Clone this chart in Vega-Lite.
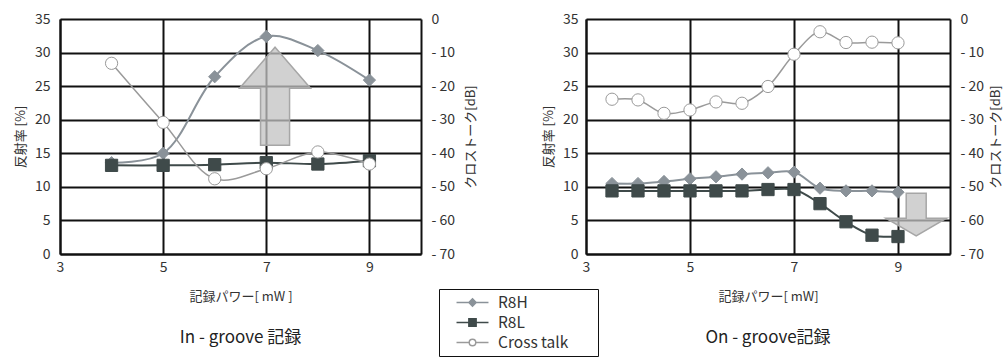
{
  "$schema": "https://vega.github.io/schema/vega-lite/v6.json",
  "padding": {"left": 14, "top": 12, "right": 0, "bottom": 0},
  "background": "white",
  "spacing": 64,
  "config": {
    "font": "Noto Sans CJK JP",
    "view": {"stroke": null},
    "axis": {"labelFont": "Noto Sans CJK JP", "titleFont": "Noto Sans CJK JP", "labelColor": "#333", "titleColor": "#333", "labelFontSize": 14, "titleFontSize": 13, "titleFontWeight": "normal", "ticks": false, "domainColor": "#111", "domainWidth": 2, "gridColor": "#111", "gridWidth": 2, "gridOpacity": 1},
    "title": {"font": "Noto Sans CJK JP", "fontSize": 17, "fontWeight": "normal", "color": "#222"},
    "legend": {"title": null, "orient": "none", "legendX": 379, "legendY": 270, "strokeColor": "#111", "fillColor": "#fff", "padding": 5, "labelFontSize": 15.5, "labelFont": "Noto Sans CJK JP", "labelColor": "#333", "symbolSize": 211, "symbolStrokeWidth": 1.5, "rowPadding": 3, "labelOffset": 17, "symbolOffset": 20}
  },
  "datasets": {
    "pts": [
      {"p": "in", "s": "R8H", "x": 4, "v": 13.6},
      {"p": "in", "s": "R8H", "x": 5, "v": 15.0},
      {"p": "in", "s": "R8H", "x": 6, "v": 26.4},
      {"p": "in", "s": "R8H", "x": 7, "v": 32.4},
      {"p": "in", "s": "R8H", "x": 8, "v": 30.3},
      {"p": "in", "s": "R8H", "x": 9, "v": 25.9},
      {"p": "in", "s": "R8L", "x": 4, "v": 13.2},
      {"p": "in", "s": "R8L", "x": 5, "v": 13.2},
      {"p": "in", "s": "R8L", "x": 6, "v": 13.3},
      {"p": "in", "s": "R8L", "x": 7, "v": 13.6},
      {"p": "in", "s": "R8L", "x": 8, "v": 13.4},
      {"p": "in", "s": "R8L", "x": 9, "v": 13.9},
      {"p": "in", "s": "Cross talk", "x": 4, "v": -13.2},
      {"p": "in", "s": "Cross talk", "x": 5, "v": -30.8},
      {"p": "in", "s": "Cross talk", "x": 6, "v": -47.6},
      {"p": "in", "s": "Cross talk", "x": 7, "v": -44.6},
      {"p": "in", "s": "Cross talk", "x": 8, "v": -39.6},
      {"p": "in", "s": "Cross talk", "x": 9, "v": -43.2},
      {"p": "on", "s": "R8H", "x": 3.5, "v": 10.5},
      {"p": "on", "s": "R8H", "x": 4, "v": 10.5},
      {"p": "on", "s": "R8H", "x": 4.5, "v": 10.8},
      {"p": "on", "s": "R8H", "x": 5, "v": 11.2},
      {"p": "on", "s": "R8H", "x": 5.5, "v": 11.5},
      {"p": "on", "s": "R8H", "x": 6, "v": 11.9},
      {"p": "on", "s": "R8H", "x": 6.5, "v": 12.1},
      {"p": "on", "s": "R8H", "x": 7, "v": 12.2},
      {"p": "on", "s": "R8H", "x": 7.5, "v": 9.8},
      {"p": "on", "s": "R8H", "x": 8, "v": 9.4},
      {"p": "on", "s": "R8H", "x": 8.5, "v": 9.4},
      {"p": "on", "s": "R8H", "x": 9, "v": 9.2},
      {"p": "on", "s": "R8L", "x": 3.5, "v": 9.4},
      {"p": "on", "s": "R8L", "x": 4, "v": 9.4},
      {"p": "on", "s": "R8L", "x": 4.5, "v": 9.4},
      {"p": "on", "s": "R8L", "x": 5, "v": 9.4},
      {"p": "on", "s": "R8L", "x": 5.5, "v": 9.4},
      {"p": "on", "s": "R8L", "x": 6, "v": 9.4},
      {"p": "on", "s": "R8L", "x": 6.5, "v": 9.6},
      {"p": "on", "s": "R8L", "x": 7, "v": 9.6},
      {"p": "on", "s": "R8L", "x": 7.5, "v": 7.5},
      {"p": "on", "s": "R8L", "x": 8, "v": 4.8},
      {"p": "on", "s": "R8L", "x": 8.5, "v": 2.8},
      {"p": "on", "s": "R8L", "x": 9, "v": 2.6},
      {"p": "on", "s": "Cross talk", "x": 3.5, "v": -23.9},
      {"p": "on", "s": "Cross talk", "x": 4, "v": -24.1},
      {"p": "on", "s": "Cross talk", "x": 4.5, "v": -28.1},
      {"p": "on", "s": "Cross talk", "x": 5, "v": -27.1},
      {"p": "on", "s": "Cross talk", "x": 5.5, "v": -24.7},
      {"p": "on", "s": "Cross talk", "x": 6, "v": -25.1},
      {"p": "on", "s": "Cross talk", "x": 6.5, "v": -20.1},
      {"p": "on", "s": "Cross talk", "x": 7, "v": -10.5},
      {"p": "on", "s": "Cross talk", "x": 7.5, "v": -3.8},
      {"p": "on", "s": "Cross talk", "x": 8, "v": -7.0},
      {"p": "on", "s": "Cross talk", "x": 8.5, "v": -6.9},
      {"p": "on", "s": "Cross talk", "x": 9, "v": -7.1}
    ],
    "arrows": [
      {"p": "in", "x": 7.17, "v": 23.5},
      {"p": "on", "x": 9.35, "v": 5.86}
    ]
  },
  "hconcat": [
    {
      "width": 361,
      "height": 235,
      "title": {"text": "In - groove 記録", "orient": "bottom", "offset": 27, "anchor": "middle"},
      "data": {"name": "pts"},
      "transform": [{"filter": "datum.p == 'in'"}],
      "encoding": {
        "x": {"field": "x", "type": "quantitative", "scale": {"domain": [3, 10], "nice": false, "zero": false},
          "axis": {"values": [3, 5, 7, 9], "grid": true, "labelPadding": 6, "title": "記録パワー[ mW ]", "titlePadding": 16, "labelFlush": false}}
      },
      "layer": [
        {
          "encoding": {
            "y": {"field": "v", "type": "quantitative", "scale": {"domain": [0, 35], "nice": false},
              "axis": {"orient": "left", "values": [0, 5, 10, 15, 20, 25, 30, 35], "grid": true, "labelPadding": 10, "title": "反射率 [%]", "titlePadding": 7}}
          },
          "layer": [
            {
              "transform": [{"filter": "datum.s == 'R8H'"}],
              "mark": {"type": "line", "interpolate": "catmull-rom", "strokeWidth": 2, "stroke": "#8a9299"}
            },
            {
              "transform": [{"filter": "datum.s == 'R8L'"}],
              "mark": {"type": "line", "interpolate": "catmull-rom", "strokeWidth": 2, "stroke": "#3f4a4a"}
            },
            {
              "transform": [{"filter": "datum.s == 'R8H'"}],
              "mark": {"type": "point", "shape": "diamond", "filled": true, "opacity": 1, "size": 150, "fill": "#8a9299", "stroke": "#8a9299", "strokeWidth": 1}
            },
            {
              "transform": [{"filter": "datum.s == 'R8L'"}],
              "mark": {"type": "point", "shape": "square", "filled": true, "opacity": 1, "size": 150, "fill": "#3f4a4a", "stroke": "#3f4a4a", "strokeWidth": 1}
            },
            {
              "transform": [{"filter": "datum.x > 1000"}],
              "mark": {"type": "point", "filled": true, "opacity": 1, "size": 211, "strokeWidth": 1.5},
              "encoding": {
                "stroke": {"field": "s", "type": "nominal", "scale": {"domain": ["R8H", "R8L", "Cross talk"], "range": ["#8a9299", "#3f4a4a", "#9a9a9a"]},
                  "legend": {"labelExpr": "datum.label + '\u2800\u2800'"}},
                "fill": {"field": "s", "type": "nominal", "scale": {"domain": ["R8H", "R8L", "Cross talk"], "range": ["#8a9299", "#3f4a4a", "#ffffff"]},
                  "legend": {"labelExpr": "datum.label + '\u2800\u2800'"}},
                "shape": {"field": "s", "type": "nominal", "scale": {"domain": ["R8H", "R8L", "Cross talk"], "range": ["M-2.2,0L2.2,0M0,-0.5L0.5,0L0,0.5L-0.5,0Z", "M-2.2,0L2.2,0M-0.5,-0.5L0.5,-0.5L0.5,0.5L-0.5,0.5Z", "M-2.2,0L-0.45,0M0.45,0L2.2,0M0.45,0A0.45,0.45 0 1,1 -0.45,0A0.45,0.45 0 1,1 0.45,0Z"]},
                  "legend": {"labelExpr": "datum.label + '\u2800\u2800'"}}
              }
            },
            {
              "data": {"name": "arrows"},
              "transform": [{"filter": "datum.p == 'in'"}],
              "mark": {"type": "point", "filled": true, "shape": "M0,-1L0.724,-0.163L0.296,-0.163L0.296,1L-0.296,1L-0.296,-0.163L-0.724,-0.163Z", "size": 9604, "fill": "#c2c2c2", "fillOpacity": 0.75, "stroke": "#a6a6a6", "strokeWidth": 1.5, "opacity": 1},
              "encoding": {"x": {"field": "x", "type": "quantitative"}, "y": {"field": "v", "type": "quantitative"}}
            }
          ]
        },
        {
          "encoding": {
            "y": {"field": "v", "type": "quantitative", "scale": {"domain": [-70, 0], "nice": false},
              "axis": {"orient": "right", "values": [-70, -60, -50, -40, -30, -20, -10, 0], "grid": false, "labelPadding": 10, "labelExpr": "datum.value == 0 ? '0' : '- ' + abs(datum.value)", "title": "クロストーク[dB]", "titleAngle": 270, "titleBaseline": "top", "titlePadding": 10}}
          },
          "transform": [{"filter": "datum.s == 'Cross talk'"}],
          "layer": [
            {
              "mark": {"type": "line", "interpolate": "catmull-rom", "strokeWidth": 1.5, "stroke": "#9a9a9a"}
            },
            {
              "mark": {"type": "point", "shape": "circle", "filled": true, "opacity": 1, "size": 150, "fill": "#ffffff", "stroke": "#9a9a9a", "strokeWidth": 1}
            }
          ]
        }
      ],
      "resolve": {"scale": {"y": "independent"}}
    },
    {
      "width": 364,
      "height": 235,
      "title": {"text": "On - groove記録", "orient": "bottom", "offset": 27, "anchor": "middle"},
      "data": {"name": "pts"},
      "transform": [{"filter": "datum.p == 'on'"}],
      "encoding": {
        "x": {"field": "x", "type": "quantitative", "scale": {"domain": [3, 10], "nice": false, "zero": false},
          "axis": {"values": [3, 5, 7, 9], "grid": true, "labelPadding": 6, "title": "記録パワー[ mW]", "titlePadding": 16, "labelFlush": false}}
      },
      "layer": [
        {
          "encoding": {
            "y": {"field": "v", "type": "quantitative", "scale": {"domain": [0, 35], "nice": false},
              "axis": {"orient": "left", "values": [0, 5, 10, 15, 20, 25, 30, 35], "grid": true, "labelPadding": 8, "title": "反射率 [%]", "titlePadding": 7}}
          },
          "layer": [
            {
              "transform": [{"filter": "datum.s == 'R8H'"}],
              "mark": {"type": "line", "interpolate": "catmull-rom", "strokeWidth": 2, "stroke": "#8a9299"}
            },
            {
              "transform": [{"filter": "datum.s == 'R8L'"}],
              "mark": {"type": "line", "interpolate": "catmull-rom", "strokeWidth": 2, "stroke": "#3f4a4a"}
            },
            {
              "transform": [{"filter": "datum.s == 'R8H'"}],
              "mark": {"type": "point", "shape": "diamond", "filled": true, "opacity": 1, "size": 150, "fill": "#8a9299", "stroke": "#8a9299", "strokeWidth": 1}
            },
            {
              "transform": [{"filter": "datum.s == 'R8L'"}],
              "mark": {"type": "point", "shape": "square", "filled": true, "opacity": 1, "size": 150, "fill": "#3f4a4a", "stroke": "#3f4a4a", "strokeWidth": 1}
            },
            {
              "data": {"name": "arrows"},
              "transform": [{"filter": "datum.p == 'on'"}],
              "mark": {"type": "point", "filled": true, "shape": "M-0.468,-1L0.468,-1L0.468,0.169L1.42,0.169L0,1L-1.42,0.169L-0.468,0.169Z", "size": 1823, "fill": "#c2c2c2", "fillOpacity": 0.75, "stroke": "#a6a6a6", "strokeWidth": 1.5, "opacity": 1},
              "encoding": {"x": {"field": "x", "type": "quantitative"}, "y": {"field": "v", "type": "quantitative"}}
            }
          ]
        },
        {
          "encoding": {
            "y": {"field": "v", "type": "quantitative", "scale": {"domain": [-70, 0], "nice": false},
              "axis": {"orient": "right", "values": [-70, -60, -50, -40, -30, -20, -10, 0], "grid": false, "labelPadding": 10, "labelExpr": "datum.value == 0 ? '0' : '- ' + abs(datum.value)", "title": "クロストーク[dB]", "titleAngle": 270, "titleBaseline": "top", "titlePadding": 6}}
          },
          "transform": [{"filter": "datum.s == 'Cross talk'"}],
          "layer": [
            {
              "mark": {"type": "line", "interpolate": "catmull-rom", "strokeWidth": 1.5, "stroke": "#9a9a9a"}
            },
            {
              "mark": {"type": "point", "shape": "circle", "filled": true, "opacity": 1, "size": 150, "fill": "#ffffff", "stroke": "#9a9a9a", "strokeWidth": 1}
            }
          ]
        }
      ],
      "resolve": {"scale": {"y": "independent"}}
    }
  ]
}
